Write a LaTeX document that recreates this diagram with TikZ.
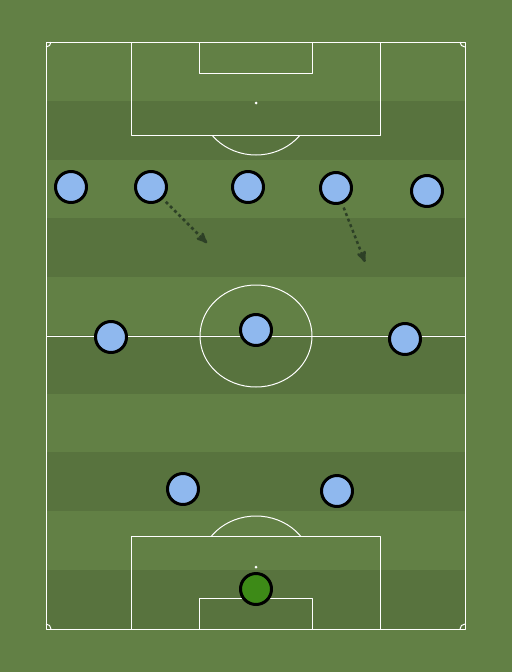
\documentclass[tikz,border=0pt]{standalone}
\usetikzlibrary{arrows}
\definecolor{grasslight}{RGB}{98,128,69}
\definecolor{grassdark}{RGB}{88,115,62}
\definecolor{shirt}{RGB}{143,184,238}
\definecolor{keeper}{RGB}{61,138,23}
\definecolor{run}{RGB}{45,64,38}
\begin{document}
\begin{tikzpicture}[x=1pt,y=-1pt,>=stealth',line join=round]
  \tikzset{player/.style={circle,draw=black,line width=3pt,minimum size=31pt,inner sep=0pt,fill=shirt},
           pitchline/.style={draw=white,line width=1pt},
           runline/.style={->,shorten <=4pt,draw=run,line width=2.5pt,dash pattern=on 3pt off 3pt}}
  \useasboundingbox (0,0) rectangle (512,672);
  \fill[grasslight] (0,0) rectangle (512,672);
  \foreach \y in {101,218,335,452,570}
    \fill[grassdark] (46,\y) rectangle (465,\y+58.7);
  % pitch
  \path[pitchline] (46,42) rectangle (465,629);
  \path[pitchline] (46,336) -- (465,336);
  \path[pitchline] (256,336) ellipse [x radius=56,y radius=51];
  \path[pitchline] (131,42) rectangle (380,135);
  \path[pitchline] (199,42) rectangle (312,73);
  \path[pitchline] (131,536) rectangle (380,629);
  \path[pitchline] (199,598) rectangle (312,629);
  \fill[white] (256,103) circle (1.5) (256,567) circle (1.5);
  \begin{scope}
    \clip (131,135) rectangle (380,170);
    \path[pitchline] (256,103) ellipse [x radius=56,y radius=52];
  \end{scope}
  \begin{scope}
    \clip (131,500) rectangle (380,536);
    \path[pitchline] (256,567) ellipse [x radius=56,y radius=51];
  \end{scope}
  \path[pitchline] (51,42) arc [start angle=0,end angle=90,radius=5];
  \path[pitchline] (460,42) arc [start angle=180,end angle=90,radius=5];
  \path[pitchline] (46,624) arc [start angle=-90,end angle=0,radius=5];
  \path[pitchline] (460,629) arc [start angle=180,end angle=270,radius=5];
  % players
  \node[player] (1)  at (71,187)  {};
  \node[player] (2)  at (151,187) {};
  \node[player] (3)  at (248,187) {};
  \node[player] (4)  at (336,188) {};
  \node[player] (5)  at (427,191) {};
  \node[player] (6)  at (111,337) {};
  \node[player] (7)  at (256,330) {};
  \node[player] (8)  at (405,339) {};
  \node[player] (9)  at (183,489) {};
  \node[player] (10) at (337,491) {};
  \node[player,fill=keeper] (11) at (256,589) {};
  % runs
  \coordinate (r2) at (207,243);
  \coordinate (r4) at (365,262);
  \path[runline] (2) edge (r2)
                 (4) edge (r4);
\end{tikzpicture}
\end{document}
